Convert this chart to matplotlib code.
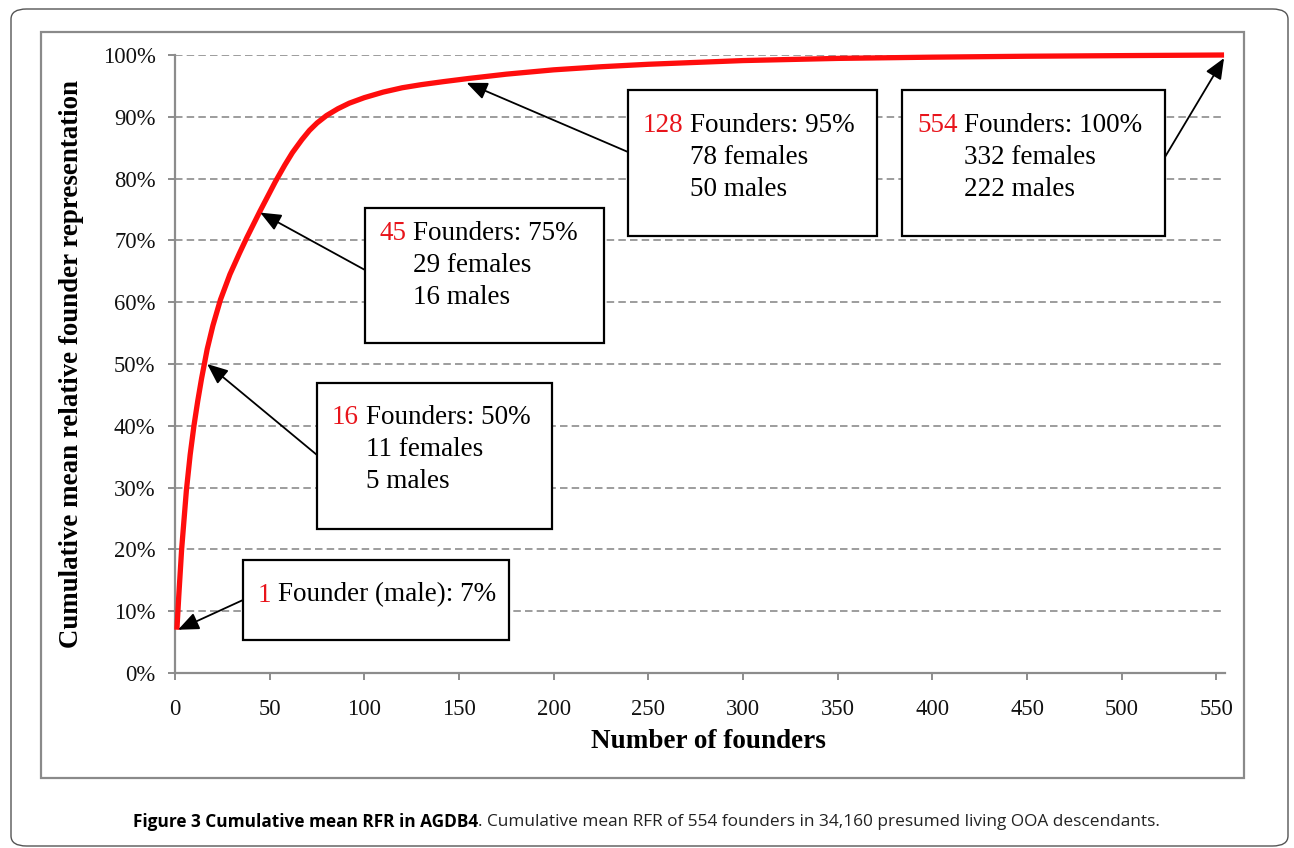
import matplotlib
matplotlib.use('Agg')
import matplotlib.pyplot as plt
from matplotlib.patches import Rectangle, FancyBboxPatch

# cumulative mean relative founder representation
founders = [1, 2, 3.5, 6, 8, 10, 12, 14, 17, 20, 24, 29, 34, 38, 45, 53, 58, 62,
            67, 71, 75, 80, 86, 92, 100, 110, 120, 130, 142, 155, 175, 200, 225,
            250, 300, 350, 400, 450, 500, 554]
cum_pct = [7, 12.5, 20, 29.5, 35.3, 40, 44, 47.6, 52.4, 56.2, 60.4, 64.5, 67.9,
           70.5, 74.8, 79.5, 82.2, 84.2, 86.3, 87.8, 89.0, 90.2, 91.3, 92.2, 93.1,
           94.0, 94.7, 95.2, 95.7, 96.2, 96.9, 97.6, 98.1, 98.5, 99.1, 99.45,
           99.65, 99.8, 99.9, 100]

x_ticks = list(range(0, 551, 50))
y_ticks = list(range(0, 101, 10))

# callouts: red count, rest of first line, extra lines, arrow target
call_num = ['1', '16', '45', '128', '554']
call_head = ['Founder (male): 7%', 'Founders: 50%', 'Founders: 75%',
             'Founders: 95%', 'Founders: 100%']
call_lines = [[], ['11 females', '5 males'], ['29 females', '16 males'],
              ['78 females', '50 males'], ['332 females', '222 males']]
arrow_x = [1.6, 17, 45, 154, 554]
arrow_y = [7, 50, 74.5, 95.5, 99.5]

W, H = 1294, 848
serif = 'Liberation Serif'


def fx(px):
    return px / W


def fy(py):
    return 1 - py / H


fig = plt.figure(figsize=(W / 100, H / 100), dpi=100)

# outer rounded frame and inner chart frame
fig.patches.append(FancyBboxPatch((fx(11), fy(846)), fx(1288) - fx(11), fy(9) - fy(846),
                                  boxstyle='round,pad=0,rounding_size=0.012',
                                  transform=fig.transFigure, fill=False,
                                  ec='#555555', lw=1.0))
fig.patches.append(Rectangle((fx(41), fy(778)), fx(1244) - fx(41), fy(32) - fy(778),
                             transform=fig.transFigure, fill=False, ec='#8a8a8a', lw=1.6))

ax = fig.add_axes([fx(175), fy(673), fx(1225) - fx(175), fy(55) - fy(673)])
ax.set_xlim(0, 554.5)
ax.set_ylim(0, 100)

ax.plot(founders, cum_pct, color='#ff0d0d', lw=3.8, solid_capstyle='butt',
        solid_joinstyle='round', clip_on=False, zorder=3)

ax.set_xticks(x_ticks)
ax.set_yticks(y_ticks)
ax.set_yticklabels([f'{v}%' for v in y_ticks])
ax.grid(axis='y', color='#8c8c8c', ls=(0, (4.5, 2.5)), lw=1.2)
ax.grid(axis='x', visible=False)
for s in ['top', 'right']:
    ax.spines[s].set_visible(False)
for s in ['left', 'bottom']:
    ax.spines[s].set_color('#8c8c8c')
    ax.spines[s].set_linewidth(1.6)
ax.tick_params(axis='both', direction='out', length=5, width=1.4, color='#8c8c8c',
               labelsize=16.3, labelcolor='#111111')
ax.tick_params(axis='x', pad=14)
ax.tick_params(axis='y', pad=9)
for lab in ax.get_xticklabels() + ax.get_yticklabels():
    lab.set_family(serif)

fig.text(fx(708), fy(741), 'Number of founders', family=serif, fontsize=19.5,
         fontweight='bold', ha='center', va='center')
fig.text(fx(72), fy(364), 'Cumulative mean relative founder representation',
         family=serif, fontsize=19.4, fontweight='bold', ha='center', va='center',
         rotation=90)

# callout boxes (pixel layout)
boxes = [(243, 560, 509, 640), (317, 383, 552, 529), (365, 208, 604, 343),
         (628, 90, 877, 236), (902, 90, 1165, 236)]
num_x = [258, 332, 379, 643, 917]
line0_y = [595, 417, 233, 125, 125]
arrow_from = [(243, 600), (317, 455), (365, 270), (628, 152), (1165, 157)]
line_gap = 32.5
fs_box = 19.5
space_px = 0.25 * fs_box * 100 / 72

fig.canvas.draw()
renderer = fig.canvas.get_renderer()

for i in range(5):
    x0, y0, x1, y1 = boxes[i]
    fig.patches.append(Rectangle((fx(x0), fy(y1)), fx(x1) - fx(x0), fy(y0) - fy(y1),
                                 transform=fig.transFigure, fc='white', ec='black',
                                 lw=1.6, zorder=5))
    tn = fig.text(fx(num_x[i]), fy(line0_y[i]), call_num[i], color='#e8141b',
                  family=serif, fontsize=fs_box, ha='left', va='center', zorder=6)
    tx = tn.get_window_extent(renderer).x1 + space_px
    fig.text(tx / W, fy(line0_y[i]), call_head[i], color='black',
             family=serif, fontsize=fs_box, ha='left', va='center', zorder=6)
    for j, t in enumerate(call_lines[i]):
        fig.text(tx / W, fy(line0_y[i] + line_gap * (j + 1)), t, color='black',
                 family=serif, fontsize=fs_box, ha='left', va='center', zorder=6)
    ax.annotate('', xy=(arrow_x[i], arrow_y[i]), xycoords='data',
                xytext=(fx(arrow_from[i][0]), fy(arrow_from[i][1])),
                textcoords='figure fraction',
                arrowprops=dict(arrowstyle='-|>,head_length=0.9,head_width=0.38',
                                color='black', lw=1.3, shrinkA=0, shrinkB=0,
                                mutation_scale=14),
                annotation_clip=False, zorder=4)

# caption: bold lead-in, then regular text placed right after it
cap_font = 'Open Sans'
t1 = fig.text(fx(133), fy(822), 'Figure 3 Cumulative mean RFR in AGDB4',
              family=cap_font, fontsize=12.4, fontweight='bold', ha='left', va='center')
bb = t1.get_window_extent(renderer)
fig.text(bb.x1 / W, fy(822),
         '. Cumulative mean RFR of 554 founders in 34,160 presumed living OOA descendants.',
         family=cap_font, fontsize=12.4, ha='left', va='center', color='#222222')

fig.savefig('out.png', dpi=100)
